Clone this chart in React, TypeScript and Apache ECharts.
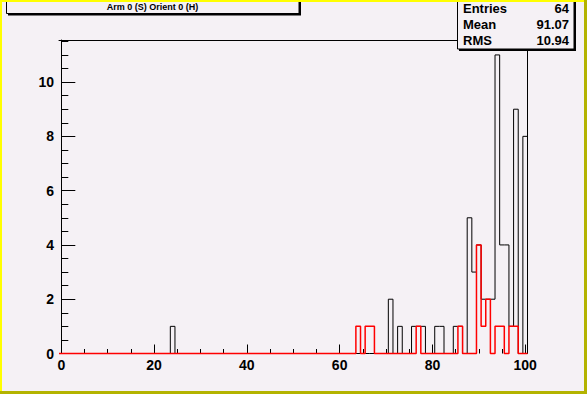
import React, { useEffect, useRef } from "react";
import * as echarts from "echarts";

// Histogram bins (bin centers) and counts
const blackBins = [24, 71, 73, 76, 77, 78, 81, 82, 85, 86, 88, 89, 90, 91, 92, 93, 94, 95, 96, 97, 98, 100];
const blackCounts = [1, 2, 1, 1, 1, 1, 1, 1, 1, 1, 5, 3, 4, 2, 2, 2, 11, 4, 4, 1, 9, 8];
const redBins = [64, 66, 67, 77, 86, 90, 91, 92, 94, 95, 97, 98];
const redCounts = [1, 1, 1, 1, 1, 4, 1, 2, 1, 1, 1, 1];

const xMajorTicks = [0, 20, 40, 60, 80, 100];
const yMajorTicks = [0, 2, 4, 6, 8, 10];
const titleText = "Arm 0 (S) Orient 0 (H)";
const statNames = ["Entries", "Mean", "RMS"];
const statValues = ["64", "91.07", "10.94"];

const NBINS = 101;
const XMIN = -0.5;
const XMAX = 100.5;
const YMAX = 11.55;

function outline(bins: number[], counts: number[]): number[][] {
  const dense = new Array(NBINS).fill(0);
  bins.forEach((b, i) => {
    dense[b] = counts[i];
  });
  const pts: number[][] = [];
  for (let i = 0; i < NBINS; i++) {
    pts.push([i - 0.5, dense[i]]);
    pts.push([i + 0.5, dense[i]]);
  }
  return pts;
}

const FONT = "'Liberation Sans', Arial, Helvetica, sans-serif";
const BG = "#f5f1f5";

export default function App() {
  const ref = useRef<HTMLDivElement>(null);
  useEffect(() => {
    if (!ref.current) return;
    const chart = echarts.init(ref.current, undefined, { renderer: "svg" });
    const xMinor: number[] = [];
    for (let v = 5; v < 100; v += 5) if (v % 20 !== 0) xMinor.push(v);
    const yMinor: number[] = [];
    for (let v = 0.5; v <= 11.5; v += 0.5) if (v % 2 !== 0) yMinor.push(v);

    const axisFont = { fontSize: 14, fontWeight: "bold" as const, fontFamily: FONT, color: "#000" };
    const frameOnly = {
      axisTick: { show: false },
      axisLabel: { show: false },
      splitLine: { show: false },
    };

    chart.setOption({
      animation: false,
      backgroundColor: BG,
      grid: {
        left: 59,
        top: 40,
        width: 468.5,
        height: 313.5,
        show: false,
      },
      xAxis: [
        {
          type: "value",
          min: XMIN,
          max: XMAX,
          position: "bottom",
          axisLine: { show: false },
          axisTick: { show: true, inside: true, length: 9, customValues: xMajorTicks, lineStyle: { color: "#000" } },
          axisLabel: { show: true, customValues: xMajorTicks, margin: 4, ...axisFont },
          splitLine: { show: false },
        },
        {
          type: "value",
          min: XMIN,
          max: XMAX,
          position: "bottom",
          axisLine: { show: false },
          axisTick: { show: true, inside: true, length: 4.5, customValues: xMinor, lineStyle: { color: "#000" } },
          axisLabel: { show: false },
          splitLine: { show: false },
        },
        {
          type: "value",
          min: XMIN,
          max: XMAX,
          position: "top",
          axisLine: { show: true, onZero: false, lineStyle: { color: "#000", width: 1 } },
          ...frameOnly,
        },
      ],
      yAxis: [
        {
          type: "value",
          min: 0,
          max: YMAX,
          position: "left",
          axisLine: { show: true, lineStyle: { color: "#000", width: 1 } },
          axisTick: { show: true, inside: true, length: 14, customValues: yMajorTicks, lineStyle: { color: "#000" } },
          axisLabel: { show: true, customValues: yMajorTicks, margin: 5, ...axisFont },
          splitLine: { show: false },
        },
        {
          type: "value",
          min: 0,
          max: YMAX,
          position: "left",
          axisLine: { show: false },
          axisTick: { show: true, inside: true, length: 7, customValues: yMinor, lineStyle: { color: "#000" } },
          axisLabel: { show: false },
          splitLine: { show: false },
        },
        {
          type: "value",
          min: 0,
          max: YMAX,
          position: "right",
          axisLine: { show: true, onZero: false, lineStyle: { color: "#000", width: 1 } },
          ...frameOnly,
        },
      ],
      series: [
        {
          type: "line",
          xAxisIndex: 0,
          yAxisIndex: 0,
          data: outline(blackBins, blackCounts),
          showSymbol: false,
          symbol: "none",
          clip: false,
          lineStyle: { color: "#000", width: 1 },
          z: 5,
          silent: true,
        },
        {
          type: "line",
          xAxisIndex: 0,
          yAxisIndex: 0,
          data: outline(redBins, redCounts),
          showSymbol: false,
          symbol: "none",
          clip: false,
          lineStyle: { color: "#ff0000", width: 1.5 },
          z: 10,
          silent: true,
        },
      ],
      graphic: [
        // canvas bevel border
        { type: "rect", shape: { x: 0, y: 0, width: 587, height: 2 }, style: { fill: "#ffff00" }, z: 100 },
        { type: "rect", shape: { x: 0, y: 0, width: 2, height: 394 }, style: { fill: "#ffff00" }, z: 100 },
        { type: "rect", shape: { x: 584, y: 0, width: 3, height: 394 }, style: { fill: "#b3b300" }, z: 100 },
        { type: "rect", shape: { x: 0, y: 391, width: 587, height: 3 }, style: { fill: "#b3b300" }, z: 100 },
        // title box
        { type: "rect", shape: { x: 8, y: -3, width: 293, height: 18.5 }, style: { fill: "#000" }, z: 50 },
        { type: "rect", shape: { x: 6.5, y: -5, width: 292.5, height: 18.5 }, style: { fill: BG, stroke: "#000", lineWidth: 1 }, z: 51 },
        {
          type: "text",
          x: 152.5,
          y: 7,
          style: { text: titleText, fill: "#000", font: `bold 9px ${FONT}`, align: "center", verticalAlign: "middle" },
          z: 52,
        },
        // stats box
        { type: "rect", shape: { x: 459, y: -3, width: 117, height: 54 }, style: { fill: "#000" }, z: 50 },
        { type: "rect", shape: { x: 457.5, y: -5, width: 116.5, height: 54 }, style: { fill: BG, stroke: "#000", lineWidth: 1 }, z: 51 },
        ...statNames.map((n, i) => ({
          type: "text",
          x: 463,
          y: 8 + i * 16.2,
          style: { text: n, fill: "#000", font: `bold 13px ${FONT}`, align: "left", verticalAlign: "middle" },
          z: 52,
        })),
        ...statValues.map((v, i) => ({
          type: "text",
          x: 569,
          y: 8 + i * 16.2,
          style: { text: v, fill: "#000", font: `bold 13px ${FONT}`, align: "right", verticalAlign: "middle" },
          z: 52,
        })),
      ],
    });
    return () => chart.dispose();
  }, []);
  return <div ref={ref} style={{ position: "absolute", left: 0, top: 0, width: 587, height: 394 }} />;
}
